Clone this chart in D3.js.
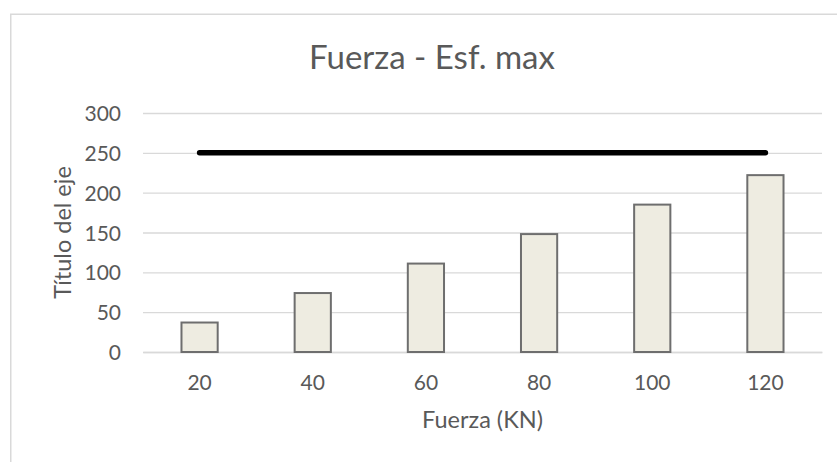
<!DOCTYPE html>
<html>
<head>
<meta charset="utf-8">
<script src="https://cdn.jsdelivr.net/npm/d3@7"></script>
<style>
  html, body { margin: 0; padding: 0; background: #fff; }
  svg { display: block; }
  text { font-family: Lato, "Open Sans", sans-serif; }
</style>
</head>
<body>
<svg id="chart" width="837" height="462"></svg>
<script>
// Applied force (kN) on the category axis
const categories = ["20", "40", "60", "80", "100", "120"];
// Maximum stress for each force
const stressValues = [37, 74, 111, 148, 185, 222];
// Allowable stress limit drawn as a line across the categories
const limitValues = [250, 250, 250, 250, 250, 250];
// Value axis ticks
const yTicks = [0, 50, 100, 150, 200, 250, 300];

const chartTitle = "Fuerza - Esf. max";
const xTitle = "Fuerza (KN)";
const yTitle = "Título del eje";

const textColor = "#595959";
const plot = { left: 143, right: 822, top: 113, bottom: 352 };

const svg = d3.select("#chart");

// Chart area outline (continues past the right and bottom edges)
svg.append("rect")
  .attr("x", 10.75).attr("y", 14.25)
  .attr("width", 1000).attr("height", 800)
  .attr("fill", "#fff")
  .attr("stroke", "#d9d9d9").attr("stroke-width", 1.5);

const x = d3.scaleBand()
  .domain(categories)
  .range([plot.left, plot.right])
  .paddingInner(0.68)
  .paddingOuter(0.34);

const y = d3.scaleLinear()
  .domain([0, 300])
  .range([plot.bottom, plot.top]);

// Horizontal gridlines + value labels
const yAxis = d3.axisLeft(y)
  .tickValues(yTicks)
  .tickSize(-(plot.right - plot.left))
  .tickPadding(22)
  .tickFormat(d3.format("d"));

const gy = svg.append("g")
  .attr("transform", `translate(${plot.left},0)`)
  .call(yAxis);
gy.select(".domain").remove();
gy.selectAll(".tick line")
  .attr("stroke", "#d9d9d9").attr("stroke-width", 1.4);
gy.selectAll(".tick text")
  .attr("fill", textColor)
  .style("font-size", "21px")
  .attr("dy", "0.36em");

// Category axis
const xAxis = d3.axisBottom(x).tickSize(0).tickPadding(23);
const gx = svg.append("g")
  .attr("transform", `translate(0,${plot.bottom})`)
  .call(xAxis);
gx.select(".domain").attr("stroke", "#d9d9d9").attr("stroke-width", 1.4);
gx.selectAll(".tick text")
  .attr("fill", textColor)
  .style("font-size", "21px");

// Bars
svg.append("g")
  .selectAll("rect")
  .data(stressValues)
  .join("rect")
  .attr("x", (d, i) => x(categories[i]))
  .attr("y", d => y(d))
  .attr("width", x.bandwidth())
  .attr("height", d => y(0) - y(d))
  .attr("fill", "#eeece1")
  .attr("stroke", "#6e6e6e")
  .attr("stroke-width", 2);

// Limit line through the category centres
const line = d3.line()
  .x((d, i) => x(categories[i]) + x.bandwidth() / 2)
  .y(d => y(d));

svg.append("path")
  .datum(limitValues)
  .attr("d", line)
  .attr("fill", "none")
  .attr("stroke", "#000")
  .attr("stroke-width", 5.5)
  .attr("stroke-linecap", "round");

// Titles
svg.append("text")
  .attr("x", 432).attr("y", 69)
  .attr("text-anchor", "middle")
  .attr("fill", textColor)
  .style("font-size", "33px")
  .text(chartTitle);

svg.append("text")
  .attr("x", (plot.left + plot.right) / 2).attr("y", 428)
  .attr("text-anchor", "middle")
  .attr("fill", textColor)
  .style("font-size", "23.5px")
  .text(xTitle);

svg.append("text")
  .attr("transform", `translate(71,${(plot.top + plot.bottom) / 2}) rotate(-90)`)
  .attr("text-anchor", "middle")
  .attr("fill", textColor)
  .style("font-size", "23.5px")
  .text(yTitle);
</script>
</body>
</html>
